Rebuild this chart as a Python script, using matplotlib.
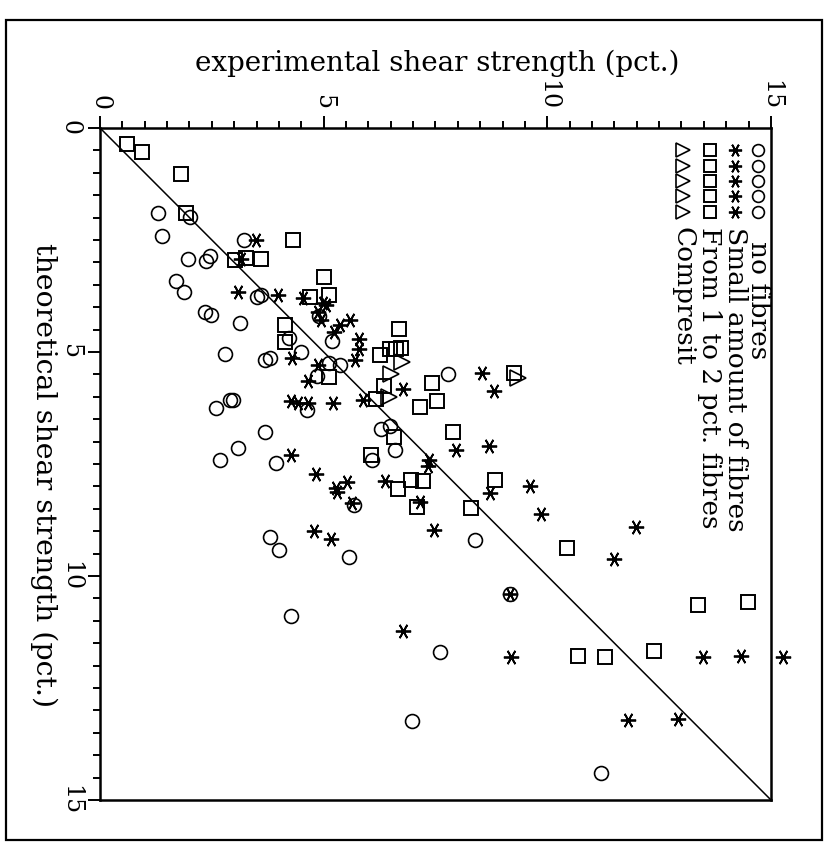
import matplotlib
matplotlib.use("Agg")
import matplotlib.pyplot as plt
from matplotlib.patches import Rectangle
from matplotlib.ticker import MultipleLocator

plt.rcParams['font.family'] = ['DejaVu Serif', 'DejaVu Sans']

# (theoretical, experimental) pairs, pct.
no_fib_exp = [2.01, 1.29, 1.39, 3.23, 1.96, 2.36, 2.46, 1.69, 1.88, 2.34, 2.49, 3.14,
              3.50, 3.60, 2.79, 3.70, 3.81, 4.23, 4.50, 5.19, 5.11, 5.37, 4.86, 2.59,
              2.90, 2.98, 4.62, 7.77, 6.28, 6.49, 6.59, 3.70, 3.08, 2.68, 3.94, 6.09,
              4.90, 5.68, 3.80, 4.00, 5.57, 8.38, 9.17, 4.28, 7.61, 6.97, 11.20]
no_fib_theo = [1.99, 1.90, 2.42, 2.51, 2.93, 2.98, 2.87, 3.41, 3.66, 4.11, 4.18, 4.36,
               3.78, 3.73, 5.05, 5.19, 5.13, 4.68, 5.00, 4.75, 5.25, 5.29, 5.54, 6.26,
               6.08, 6.08, 6.30, 5.49, 6.72, 6.66, 7.20, 6.79, 7.15, 7.42, 7.48, 7.42,
               4.20, 8.41, 9.12, 9.42, 9.58, 9.20, 10.40, 10.90, 11.69, 13.24, 14.39]

small_exp = [3.49, 3.15, 3.09, 3.99, 4.53, 4.99, 5.06, 4.87, 4.94, 5.36, 5.59, 5.23,
             5.79, 5.78, 5.70, 4.29, 4.87, 4.65, 4.27, 4.43, 4.64, 5.22, 5.87, 6.77,
             8.54, 8.80, 7.97, 8.70, 7.36, 7.33, 4.28, 4.84, 5.28, 5.53, 5.30, 5.64,
             6.38, 7.16, 8.72, 9.61, 9.87, 11.98, 7.47, 4.79, 5.16, 11.50, 9.17, 6.77,
             9.19, 13.47, 14.33, 15.27, 11.81, 12.93]
small_theo = [2.50, 2.92, 3.66, 3.73, 3.79, 3.91, 3.96, 4.10, 4.28, 4.39, 4.29, 4.55,
              4.72, 4.93, 5.18, 5.14, 5.30, 5.65, 6.09, 6.13, 6.15, 6.14, 6.08, 5.82,
              5.48, 5.88, 7.19, 7.09, 7.42, 7.55, 7.31, 7.73, 8.03, 7.90, 8.12, 8.37,
              7.89, 8.36, 8.16, 7.99, 8.61, 8.90, 8.97, 9.00, 9.18, 9.63, 10.40, 11.23,
              11.81, 11.80, 11.78, 11.80, 13.22, 13.20]

pct12_exp = [0.60, 0.95, 1.81, 1.93, 4.31, 3.03, 3.26, 3.61, 5.00, 4.69, 5.12, 4.14,
             4.14, 6.69, 6.27, 6.48, 6.62, 6.74, 5.12, 6.36, 6.17, 7.42, 7.53, 7.15,
             9.26, 7.90, 6.58, 6.07, 6.95, 7.23, 6.66, 8.83, 7.09, 8.30, 10.45, 13.37,
             14.48, 10.69, 11.28, 12.39]
pct12_theo = [0.37, 0.54, 1.02, 1.91, 2.51, 2.94, 2.90, 2.92, 3.32, 3.77, 3.73, 4.39,
              4.77, 4.48, 5.06, 4.94, 4.93, 4.92, 5.55, 5.75, 6.06, 5.69, 6.10, 6.22,
              5.48, 6.79, 6.91, 7.29, 7.87, 7.88, 8.05, 7.87, 8.47, 8.49, 9.38, 10.65,
              10.59, 11.79, 11.80, 11.67]

compresit_exp = [9.34, 6.50, 6.47, 6.75]
compresit_theo = [5.59, 5.49, 6.01, 5.22]

legend_texts = ['no fibres', 'Small amount of fibres', 'From 1 to 2 pct. fibres', 'Compresit']

fig = plt.figure(figsize=(8.33, 8.51), dpi=100)
ax = fig.add_axes([0.120, 0.060, 0.8055, 0.7897])

styles = [dict(marker='o', ms=10, mfc='none', mec='k', mew=1.2),
          dict(marker=(6, 2, 90), ms=11, mec='k', mew=1.3),
          dict(marker='s', ms=10, mfc='none', mec='k', mew=1.4),
          dict(marker='>', ms=12, mfc='none', mec='k', mew=1.2)]

# page is printed sideways: experimental runs left->right, theoretical runs down
ax.plot([0, 15], [0, 15], color='k', lw=1.1)
ax.plot(no_fib_exp, no_fib_theo, ls='none', **styles[0])
ax.plot(small_exp, small_theo, ls='none', clip_on=False, **styles[1])
ax.plot(pct12_exp, pct12_theo, ls='none', **styles[2])
ax.plot(compresit_exp, compresit_theo, ls='none', **styles[3])

ax.set_xlim(0, 15)
ax.set_ylim(15, 0)
ax.xaxis.tick_top()
ax.xaxis.set_major_locator(MultipleLocator(5))
ax.yaxis.set_major_locator(MultipleLocator(5))
ax.xaxis.set_minor_locator(MultipleLocator(0.5))
ax.yaxis.set_minor_locator(MultipleLocator(0.5))
ax.tick_params(which='both', direction='out', top=True, bottom=False, left=True,
               right=False, width=1.4, labelsize=17, pad=4)
ax.tick_params(which='major', length=9)
ax.tick_params(which='minor', length=5)
for lab in ax.get_xticklabels():
    lab.set_rotation(-90)
for lab in ax.get_yticklabels():
    lab.set_rotation(-90)
    lab.set_va('center')
for sp in ax.spines.values():
    sp.set_linewidth(1.8)

# legend written sideways in the top right corner: a row of 5 symbols, then the label
cols = [0.981, 0.947, 0.909, 0.869]
label_top = [0.832, 0.852, 0.852, 0.852]
leg_size = [8.5, 9.5, 8.5, 10]
rows = [0.967, 0.944, 0.921, 0.898, 0.875]
for x, txt, yt, st, sz in zip(cols, legend_texts, label_top, styles, leg_size):
    st = dict(st, ms=sz)
    ax.plot([x] * len(rows), rows, ls='none', transform=ax.transAxes, clip_on=False, **st)
    ax.text(x, yt, txt, transform=ax.transAxes, rotation=-90, ha='center',
            va='top', fontsize=19)

fig.text(0.5246, 0.926, 'experimental shear strength (pct.)', ha='center',
         va='center', fontsize=20)
fig.text(0.052, 0.442, 'theoretical shear strength (pct.)', ha='center',
         va='center', rotation=-90, fontsize=20.5)

fig.patches.append(Rectangle((0.0072, 0.0129), 0.98, 0.9636, transform=fig.transFigure,
                             fill=False, lw=1.6, ec='k'))

fig.savefig('out.png', dpi=100)
